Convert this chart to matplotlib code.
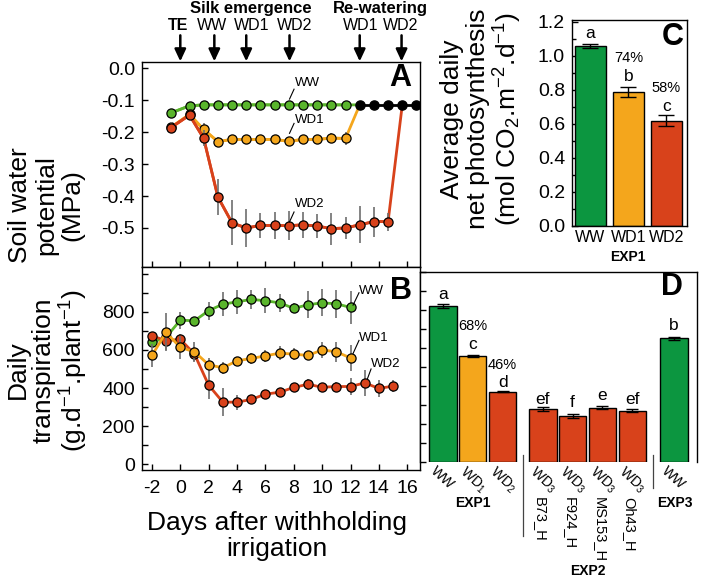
import matplotlib
matplotlib.use('Agg')
import matplotlib.pyplot as plt
import matplotlib.transforms as mtrans
from matplotlib.ticker import MultipleLocator

plt.rcParams['font.family'] = ['Liberation Sans', 'DejaVu Sans']
plt.rcParams['mathtext.fontset'] = 'custom'
plt.rcParams['mathtext.rm'] = 'Liberation Sans'
plt.rcParams['mathtext.it'] = 'Liberation Sans:italic'
plt.rcParams['mathtext.bf'] = 'Liberation Sans:bold'
plt.rcParams['axes.unicode_minus'] = False

# ---------------- data ----------------
# Panel A : soil water potential (MPa)
a_days = [-0.65, 0.65, 1.65, 2.65, 3.65, 4.65, 5.65, 6.65, 7.65, 8.65, 9.65, 10.65, 11.65]
a_ww = [-0.14, -0.118, -0.115, -0.115, -0.115, -0.115, -0.115, -0.115, -0.115, -0.115, -0.115, -0.115, -0.115]
a_ww_err = [0.008, 0.005, 0.004, 0.004, 0.004, 0.004, 0.004, 0.004, 0.004, 0.004, 0.004, 0.004, 0.004]
a_wd1 = [-0.185, -0.145, -0.192, -0.23, -0.223, -0.223, -0.223, -0.223, -0.229, -0.223, -0.223, -0.219, -0.22]
a_wd1_err = [0.0, 0.0, 0.02, 0.015, 0.01, 0.01, 0.01, 0.01, 0.012, 0.01, 0.01, 0.015, 0.02]
a_wd2_days = [-0.65, 0.65, 1.65, 2.65, 3.65, 4.65, 5.65, 6.65, 7.65, 8.65, 9.65, 10.65, 11.65, 12.65, 13.65, 14.65]
a_wd2 = [-0.186, -0.147, -0.22, -0.403, -0.484, -0.5, -0.492, -0.492, -0.493, -0.49, -0.494, -0.502, -0.5, -0.49, -0.48, -0.48]
a_wd2_err = [0.018, 0.01, 0.025, 0.057, 0.07, 0.06, 0.04, 0.043, 0.045, 0.04, 0.038, 0.05, 0.035, 0.058, 0.047, 0.028]
a_rw_days = [12.65, 13.65, 14.65, 15.65, 16.65]
a_rw = [-0.115, -0.115, -0.115, -0.115, -0.115]
a_yticks = [0.0, -0.1, -0.2, -0.3, -0.4, -0.5]

# arrows above panel A
arrow_days = [0.0, 2.4, 4.65, 7.7, 12.65, 15.6]
arrow_labels = ['TE', 'WW', 'WD1', 'WD2', 'WD1', 'WD2']
arrow_label_x = [-0.15, 2.25, 5.0, 8.05, 12.7, 15.5]
arrow_label_bold = [True, False, False, False, False, False]

# Panel B : daily transpiration
b_days = [-2, -1, 0, 1, 2, 3, 4, 5, 6, 7, 8, 9, 10, 11, 12]
b_ww = [639, 667, 756, 753, 806, 840, 852, 865, 858, 847, 818, 837, 847, 842, 823]
b_ww_err = [15, 40, 44, 15, 48, 63, 64, 50, 65, 48, 26, 70, 70, 74, 86]
b_wd1 = [571, 692, 613, 590, 522, 506, 543, 555, 569, 583, 578, 571, 600, 590, 558]
b_wd1_err = [61, 100, 61, 52, 35, 32, 22, 30, 30, 35, 30, 22, 44, 52, 66]
b_wd2_days = [-2, -1, 0, 1, 2, 3, 4, 5, 6, 7, 8, 9, 10, 11, 12, 13, 14, 15]
b_wd2 = [674, 648, 656, 578, 415, 326, 326, 340, 368, 378, 403, 420, 404, 408, 408, 427, 398, 410]
b_wd2_err = [22, 48, 30, 35, 74, 74, 39, 16, 22, 20, 22, 30, 20, 24, 46, 70, 44, 30]
b_xticks = [-2, 0, 2, 4, 6, 8, 10, 12, 14, 16]
b_yticks = [0, 100, 200, 300, 400, 500, 600, 700, 800, 900, 1000]
b_ytick_labels = ['0', '', '200', '', '400', '', '600', '', '800', '', '']

# Panel C : average daily net photosynthesis
c_cats = ['WW', 'WD1', 'WD2']
c_vals = [1.058, 0.785, 0.618]
c_err = [0.012, 0.029, 0.032]
c_letters = ['a', 'b', 'c']
c_pct = ['', '74%', '58%']

# Panel D : transpiration bars
d_pos = [0, 1, 2, 3.35, 4.35, 5.35, 6.35, 7.75]
d_labels = ['WW', 'WD$_1$', 'WD$_2$', 'WD$_3$', 'WD$_3$', 'WD$_3$', 'WD$_3$', 'WW']
d_sublabels = ['', '', '', 'B73_H', 'F924_H', 'MS153_H', 'Oh43_H', '']
d_vals = [821, 558, 370, 277, 242, 286, 270, 652]
d_err = [8, 6, 3, 10, 10, 8, 8, 8]
d_letters = ['a', 'c', 'd', 'ef', 'f', 'e', 'ef', 'b']
d_pct = ['', '68%', '46%', '', '', '', '', '']
d_groups = ['EXP1', 'EXP2', 'EXP3']

# ---------------- style ----------------
GREEN_L = '#5ab52c'
ORANGE = '#f4a61c'
RED = '#d8421b'
GREEN_B = '#0c9640'
ERRC = '#6e6e6e'
d_colors = [GREEN_B, ORANGE, RED, RED, RED, RED, RED, GREEN_B]
c_colors = [GREEN_B, ORANGE, RED]

W, H = 701, 579
fig = plt.figure(figsize=(W / 100, H / 100), dpi=100)


def rect(l, t, r, b):
    return [l / W, 1 - b / H, (r - l) / W, (b - t) / H]


axA = fig.add_axes(rect(142, 62, 420, 267))
axB = fig.add_axes(rect(142, 267, 420, 470))
axC = fig.add_axes(rect(572, 20, 687, 226))
axD = fig.add_axes(rect(420, 272, 697, 462))

for ax in (axA, axB, axC, axD):
    for s in ax.spines.values():
        s.set_linewidth(1.0)

MS = 6.6
LW = 2.0


def series(ax, x, y, err, color, z):
    ax.plot(x, y, '-', color=color, lw=LW, zorder=z)
    ax.errorbar(x, y, yerr=err, fmt='none', ecolor=ERRC, elinewidth=1.2, capsize=0, zorder=z + 0.1)
    ax.plot(x, y, 'o', ms=MS, mfc=color, mec='black', mew=0.9, zorder=z + 0.2)


# ---------------- Panel A ----------------
axA.plot(a_days + [a_rw_days[0]], a_ww + [a_rw[0]], '-', color=GREEN_L, lw=LW, zorder=2)
axA.plot(a_days + [a_rw_days[0]], a_wd1 + [a_rw[0]], '-', color=ORANGE, lw=LW, zorder=3)
axA.plot(a_wd2_days + [a_rw_days[3]], a_wd2 + [a_rw[3]], '-', color=RED, lw=LW, zorder=4)
series(axA, a_days, a_ww, a_ww_err, GREEN_L, 2)
series(axA, a_days, a_wd1, a_wd1_err, ORANGE, 3)
series(axA, a_wd2_days, a_wd2, a_wd2_err, RED, 4)
axA.plot(a_rw_days, a_rw, '-o', color='black', lw=LW, ms=MS, mfc='black', mec='black', zorder=6)

axA.set_xlim(-2.7, 16.9)
axA.set_ylim(-0.622, 0.019)
axA.set_yticks(a_yticks)
axA.set_yticklabels(['%.1f' % v for v in a_yticks])
axA.set_xticks(b_xticks)
axA.tick_params(direction='in', length=4.5, width=1, labelsize=14, pad=5)
axA.tick_params(axis='x', labelbottom=False)

axA.text(0.97, 0.995, 'A', transform=axA.transAxes, ha='right', va='top', fontsize=22, fontweight='bold')

for lbl, ty, ly in (('WW', -0.046, (-0.097, -0.066)), ('WD1', -0.163, (-0.204, -0.173)),
                    ('WD2', -0.424, (-0.481, -0.45))):
    axA.plot([7.7, 8.02], ly, color='black', lw=0.8, zorder=7)
    axA.text(8.05, ty, lbl, fontsize=9.5, ha='left', va='center', zorder=7)

trA = mtrans.blended_transform_factory(axA.transData, axA.transAxes)
for d in arrow_days:
    axA.annotate('', xy=(d, 1.003), xytext=(d, 1.13), xycoords=trA, textcoords=trA,
                 arrowprops=dict(arrowstyle='-|>,head_length=0.6,head_width=0.28', color='black',
                                 lw=1.8, mutation_scale=12, shrinkA=0, shrinkB=0))
for lx, lbl, bold in zip(arrow_label_x, arrow_labels, arrow_label_bold):
    axA.text(lx, 1.176, lbl, transform=trA, ha='center', va='center', fontsize=11.5,
             fontweight='bold' if bold else 'normal')
axA.text(5.0, 1.262, 'Silk emergence', transform=trA, ha='center', va='center', fontsize=12, fontweight='bold')
axA.text(14.1, 1.262, 'Re-watering', transform=trA, ha='center', va='center', fontsize=12, fontweight='bold')

# ---------------- Panel B ----------------
series(axB, b_days, b_ww, b_ww_err, GREEN_L, 2)
series(axB, b_wd2_days, b_wd2, b_wd2_err, RED, 3)
series(axB, b_days, b_wd1, b_wd1_err, ORANGE, 4)
axB.set_xlim(-2.7, 16.9)
axB.set_ylim(-30, 1035)
axB.set_xticks(b_xticks)
axB.set_xticklabels([str(v) for v in b_xticks])
axB.set_yticks(b_yticks)
axB.set_yticklabels(b_ytick_labels)
axB.tick_params(direction='in', length=4.5, width=1, labelsize=14, pad=5)
axB.tick_params(axis='x', pad=7)
axB.text(0.97, 0.955, 'B', transform=axB.transAxes, ha='right', va='top', fontsize=22, fontweight='bold')
for lbl, tx, ty, lx, ly in (('WW', 12.62, 908, (12.18, 12.6), (835, 900)),
                            ('WD1', 12.62, 662, (12.18, 12.6), (581, 650)),
                            ('WD2', 13.45, 525, (13.2, 13.45), (450, 500))):
    axB.plot(lx, ly, color='black', lw=0.8, zorder=7)
    axB.text(tx, ty, lbl, fontsize=9.5, ha='left', va='center', zorder=7)

# ---------------- Panel C ----------------
cx = list(range(len(c_cats)))
axC.bar(cx, c_vals, width=0.8, color=c_colors, edgecolor='black', linewidth=1.0, zorder=2)
axC.errorbar(cx, c_vals, yerr=c_err, fmt='none', ecolor='black', elinewidth=1.0, capsize=5.5,
             capthick=1.0, zorder=3)
axC.set_xlim(-0.48, 2.54)
axC.set_ylim(0, 1.21)
axC.yaxis.set_major_locator(MultipleLocator(0.2))
axC.yaxis.set_minor_locator(MultipleLocator(0.1))
axC.yaxis.set_major_formatter(matplotlib.ticker.FormatStrFormatter('%.1f'))
axC.set_xticks([])
axC.tick_params(axis='y', which='both', direction='in', width=1, labelsize=14, pad=5)
axC.tick_params(axis='y', which='major', length=4.5)
axC.tick_params(axis='y', which='minor', length=3)
trC = mtrans.blended_transform_factory(axC.transData, axC.transAxes)
for x, lbl in zip(cx, c_cats):
    axC.text(x, -0.058, lbl, transform=trC, ha='center', va='center', fontsize=11.5)
axC.text(1, -0.15, 'EXP1', transform=trC, ha='center', va='center', fontsize=10, fontweight='bold')
c_letter_y = [1.13, 0.877, 0.70]
c_pct_y = [0, 0.985, 0.808]
for x, l, p, ly, py in zip(cx, c_letters, c_pct, c_letter_y, c_pct_y):
    axC.text(x, ly, l, ha='center', va='center', fontsize=12.5)
    if p:
        axC.text(x, py, p, ha='center', va='center', fontsize=10.5)
axC.text(0.975, 0.99, 'C', transform=axC.transAxes, ha='right', va='top', fontsize=22, fontweight='bold')

# ---------------- Panel D ----------------
axD.bar(d_pos, d_vals, width=0.92, color=d_colors, edgecolor='black', linewidth=1.0, zorder=2)
axD.errorbar(d_pos, d_vals, yerr=d_err, fmt='none', ecolor='black', elinewidth=1.0, capsize=4.5,
             capthick=1.0, zorder=3)
axD.set_xlim(-0.77, 8.52)
axD.set_ylim(0, 1000)
axD.yaxis.set_major_locator(MultipleLocator(100))
axD.set_yticklabels([])
axD.set_xticks([])
axD.tick_params(axis='y', direction='in', length=4.5, width=1)
axD.spines['bottom'].set_visible(False)
trD = mtrans.blended_transform_factory(axD.transData, axD.transAxes)
d_letter_y = [880, 618, 420, 329, 313, 350, 329, 718]
for x, l, ly in zip(d_pos, d_letters, d_letter_y):
    axD.text(x, ly, l, ha='center', va='center', fontsize=12.5)
d_pct_y = [0, 718, 513, 0, 0, 0, 0, 0]
for x, p, py in zip(d_pos, d_pct, d_pct_y):
    if p:
        axD.text(x, py, p, ha='center', va='center', fontsize=10.5)
for x, lbl in zip(d_pos, d_labels):
    axD.text(x - 0.2, -0.012, lbl, transform=trD, ha='left', va='top', rotation=-42,
             rotation_mode='anchor', fontsize=10)
for x, lbl in zip(d_pos, d_sublabels):
    if lbl:
        axD.text(x - 0.1, -0.183, lbl, transform=trD, ha='center', va='top', rotation=-90, fontsize=10.5)
axD.text(1.0, -0.214, d_groups[0], transform=trD, ha='center', va='center', fontsize=10, fontweight='bold')
axD.text(4.85, -0.576, d_groups[1], transform=trD, ha='center', va='center', fontsize=10, fontweight='bold')
axD.text(7.78, -0.214, d_groups[2], transform=trD, ha='center', va='center', fontsize=10, fontweight='bold')
axD.plot([2.67, 2.67], [0.038, -0.39], transform=trD, color='#444444', lw=0.9, clip_on=False)
axD.plot([7.04, 7.04], [0.038, -0.135], transform=trD, color='#444444', lw=0.9, clip_on=False)
axD.text(0.949, 1.0, 'D', transform=axD.transAxes, ha='right', va='top', fontsize=22, fontweight='bold')

# ---------------- axis titles ----------------
fig.text(46 / W, 1 - 205 / H, 'Soil water\npotential\n(MPa)', rotation=90, ha='center', va='center',
         fontsize=19, linespacing=1.1)
fig.text(48 / W, 1 - 370 / H, 'Daily\ntranspiration\n(g.d$^{-1}$.plant$^{-1}$)', rotation=90,
         ha='center', va='center', fontsize=19, linespacing=1.1)
fig.text(482 / W, 1 - 119 / H, 'Average daily\nnet photosynthesis\n(mol CO$_2$.m$^{-2}$.d$^{-1}$)',
         rotation=90, ha='center', va='center', fontsize=19, linespacing=1.1)
fig.text(277 / W, 1 - 536 / H, 'Days after withholding\nirrigation', ha='center', va='center',
         fontsize=19, linespacing=1.1)

fig.savefig('out.png', dpi=100)
